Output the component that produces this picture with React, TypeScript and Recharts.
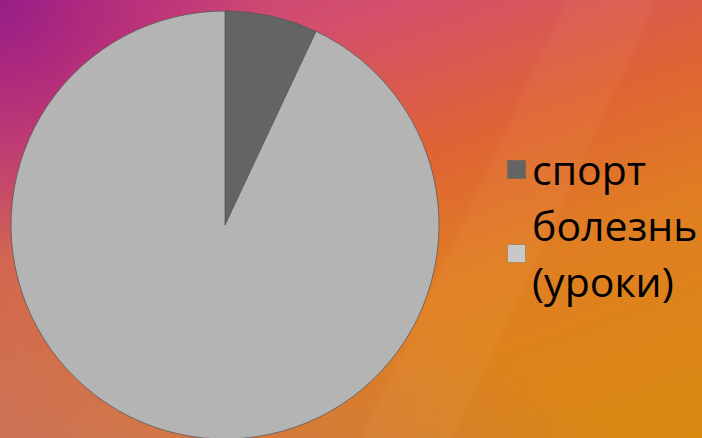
import React from 'react';
import { PieChart, Pie, Cell, Legend } from 'recharts';

const categories = ['спорт', 'болезнь (уроки)'];
const values = [7, 93];
const sliceColors = ['#646464', '#b4b4b4'];
const legendColors = ['#646464', '#c8c8c8'];
const legendBorders = ['#7a6a5a', '#b08a50'];

const data = categories.map((name, i) => ({ name, value: values[i] }));

const renderLegend = () => {
  return (
    <div style={{ fontFamily: '"Open Sans", sans-serif', fontSize: 41, lineHeight: '56px', color: '#000' }}>
      {categories.map((label, i) => (
        <div key={label} style={{ display: 'flex', alignItems: 'center' }}>
          <div
            style={{
              width: 17,
              height: 17,
              background: legendColors[i],
              border: `1px solid ${legendBorders[i]}`,
              marginRight: 6,
              flex: '0 0 auto',
            }}
          />
          <div style={{ width: 172, whiteSpace: 'normal' }}>{label}</div>
        </div>
      ))}
    </div>
  );
};

export default function App() {
  return (
    <div
      style={{
        position: 'fixed',
        left: 0,
        top: 0,
        width: 702,
        height: 438,
        overflow: 'hidden',
        background: [
          'radial-gradient(circle at 0px 0px, rgba(150,30,135,1) 0px, rgba(170,35,125,0.75) 90px, rgba(190,50,115,0) 260px)',
          'linear-gradient(115deg, rgba(255,255,255,0) 62%, rgba(255,230,150,0.05) 63%, rgba(255,230,150,0.05) 72%, rgba(255,255,255,0) 73%)',
          'linear-gradient(to top right, rgba(200,112,96,0.85) 0%, rgba(200,112,96,0) 45%)',
          'linear-gradient(160deg, #c23a80 0%, #d4506a 22%, #df6434 45%, #e07e22 65%, #d88a10 100%)',
        ].join(', '),
      }}
    >
      <PieChart
        width={702}
        height={438}
        margin={{ top: 0, right: 0, bottom: 0, left: 0 }}
        style={{ position: 'absolute', left: 0, top: 0 }}
      >
        <Pie
          data={data}
          dataKey="value"
          nameKey="name"
          cx={225}
          cy={225}
          outerRadius={214}
          startAngle={90}
          endAngle={-270}
          stroke="#555555"
          strokeWidth={0.75}
          isAnimationActive={false}
        >
          {data.map((d, i) => (
            <Cell key={d.name} fill={sliceColors[i]} />
          ))}
        </Pie>
        <Legend
          content={renderLegend}
          wrapperStyle={{ position: 'absolute', left: 507, top: 141, width: 195 }}
        />
      </PieChart>
    </div>
  );
}
